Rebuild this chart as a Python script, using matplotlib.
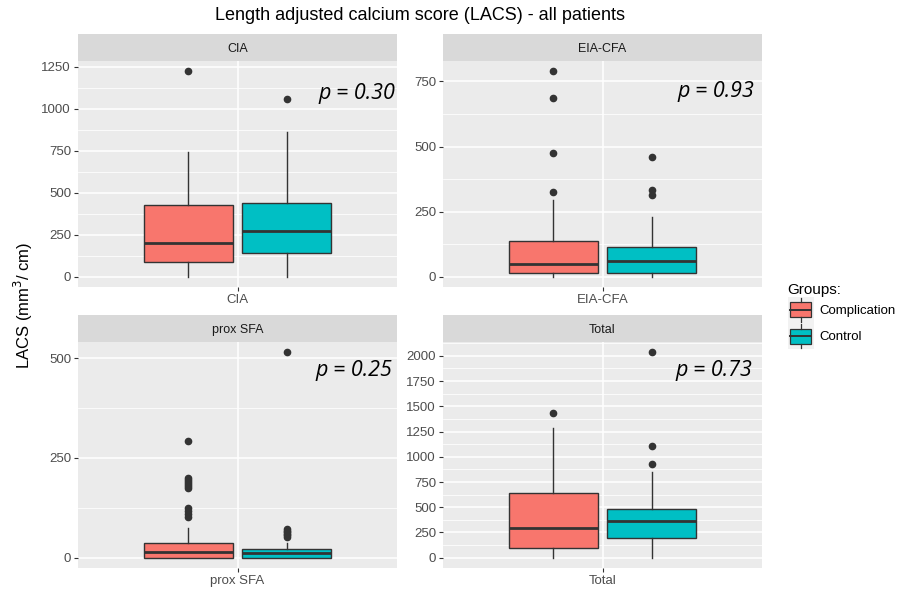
"""Faceted boxplots of length adjusted calcium score (LACS), ggplot look."""
import matplotlib
matplotlib.use("Agg")
import matplotlib.pyplot as plt
from matplotlib.legend_handler import HandlerBase
from matplotlib.lines import Line2D
from matplotlib.patches import Patch, Rectangle

plt.rcParams['font.family'] = ['Liberation Sans', 'DejaVu Sans']

# ---- data ------------------------------------------------------------------
segments = ['CIA', 'EIA-CFA', 'prox SFA', 'Total']
groups = ['Complication', 'Control']
colors = ['#F8766D', '#00BFC4']
p_labels = ['p = 0.30', 'p = 0.93', 'p = 0.25', 'p = 0.73']

# per segment: [complication, control]
whisk_lo = [[0, 0], [0, 0], [0, 0], [0, 0]]
q1 = [[87, 141], [15, 15], [0, 0], [99, 198]]
median = [[199, 270], [49, 59], [15, 11], [294, 363]]
q3 = [[429, 441], [138, 115], [36, 21], [641, 479]]
whisk_hi = [[739, 860], [295, 229], [74, 37], [1283, 853]]
outliers = [
    [[1222], [1055]],
    [[789, 687, 475, 324], [458, 334, 315]],
    [[293, 200, 195, 190, 185, 180, 175, 125, 118, 110, 102],
     [515, 72, 68, 65, 60, 56, 52]],
    [[1431], [2035, 1107, 925]],
]
y_data_max = [1222, 789, 515, 2035]
y_breaks = [
    [0, 250, 500, 750, 1000, 1250],
    [0, 250, 500, 750],
    [0, 250, 500],
    [0, 250, 500, 750, 1000, 1250, 1500, 1750, 2000],
]

# ---- layout (pixels of a 901x593 canvas) -------------------------------------
W, H = 901, 593
panel_px = [(78, 61), (443, 61), (78, 342), (443, 342)]  # left, top
PW, PH, STRIP = 319, 226, 27
p_pos = [(0.994, 0.858), (0.975, 0.864), (0.984, 0.872), (0.969, 0.876)]

BG = '#EBEBEB'
GRID = 'white'
DARK = '#333333'
TICKC = '#4D4D4D'

fig = plt.figure(figsize=(W / 100, H / 100), dpi=100)


def to_fig(x, y, w, h):
    return [x / W, 1 - (y + h) / H, w / W, h / H]


for i, seg in enumerate(segments):
    px, py = panel_px[i]
    ax = fig.add_axes(to_fig(px, py, PW, PH))
    sax = fig.add_axes(to_fig(px, py - STRIP, PW, STRIP))

    # strip
    sax.set_facecolor('#D9D9D9')
    sax.set_xticks([])
    sax.set_yticks([])
    for s in sax.spines.values():
        s.set_visible(False)
    sax.text(0.5, 0.45, seg, ha='center', va='center', fontsize=9,
             color='#1A1A1A', transform=sax.transAxes)

    stats = []
    for g in range(2):
        stats.append(dict(whislo=whisk_lo[i][g], q1=q1[i][g], med=median[i][g],
                          q3=q3[i][g], whishi=whisk_hi[i][g],
                          fliers=outliers[i][g]))
    bp = ax.bxp(stats, positions=[1 - 0.186, 1 + 0.186], widths=0.335,
                patch_artist=True, showfliers=True,
                boxprops=dict(edgecolor=DARK, linewidth=1.0),
                medianprops=dict(color=DARK, linewidth=2.0),
                whiskerprops=dict(color=DARK, linewidth=1.0),
                capprops=dict(linewidth=0),
                flierprops=dict(marker='o', markersize=4.5,
                                markerfacecolor=DARK, markeredgecolor=DARK))
    for patch, c in zip(bp['boxes'], colors):
        patch.set_facecolor(c)
    for cap in bp['caps']:
        cap.set_visible(False)

    ymax = y_data_max[i]
    pad = 0.05 * ymax
    ax.set_ylim(-pad, ymax + pad)
    ax.set_xlim(0.4, 1.6)

    ax.set_facecolor(BG)
    br = y_breaks[i]
    step = br[1] - br[0]
    ax.set_yticks(br)
    ax.set_yticklabels([str(b) for b in br])
    minor = [b + step / 2 for b in br] + [br[0] - step / 2]
    minor = [m for m in minor if -pad < m < ymax + pad]
    ax.set_yticks(minor, minor=True)
    ax.set_xticks([1])
    ax.set_xticklabels([seg])
    ax.grid(True, which='major', color=GRID, linewidth=1.1)
    ax.grid(True, which='minor', axis='y', color=GRID, linewidth=0.55)
    ax.set_axisbelow(True)
    for s in ax.spines.values():
        s.set_visible(False)
    ax.tick_params(axis='both', which='major', colors=DARK, labelcolor=TICKC,
                   labelsize=9.5, length=3, width=0.8, pad=2)
    ax.tick_params(axis='y', which='minor', length=0)

    ax.text(p_pos[i][0], p_pos[i][1], p_labels[i], transform=ax.transAxes,
            ha='right', va='center', fontsize=15.5, style='italic',
            family=['Open Sans', 'DejaVu Sans'], color='black')

fig.text(420 / W, 1 - 16 / H,
         'Length adjusted calcium score (LACS) - all patients',
         ha='center', va='center', fontsize=13, color='black')
fig.text(23 / W, 1 - 305 / H, 'LACS (mm$^{3}$/ cm)', rotation=90,
         ha='center', va='center', fontsize=12, color='black')


class BoxKey(HandlerBase):
    def create_artists(self, legend, orig_handle, xdescent, ydescent,
                       width, height, fontsize, trans):
        x0, y0 = -xdescent, -ydescent
        bg = Rectangle((x0, y0), width, height, facecolor='#F2F2F2',
                       edgecolor='none', transform=trans)
        bx = Rectangle((x0 + 0.1 * width, y0 + 0.22 * height), 0.8 * width,
                       0.56 * height, facecolor=orig_handle.get_facecolor(),
                       edgecolor=DARK, linewidth=0.9, transform=trans)
        xm = x0 + width / 2
        mid = Line2D([x0 + 0.1 * width, x0 + 0.9 * width],
                     [y0 + height / 2] * 2, color=DARK, linewidth=1.4,
                     transform=trans)
        wt = Line2D([xm, xm], [y0 + 0.78 * height, y0 + 0.95 * height],
                    color=DARK, linewidth=0.9, transform=trans)
        wb = Line2D([xm, xm], [y0 + 0.05 * height, y0 + 0.22 * height],
                    color=DARK, linewidth=0.9, transform=trans)
        return [bg, bx, mid, wt, wb]


handles = [Patch(facecolor=c) for c in colors]
leg = fig.legend(handles, groups, title='Groups:', loc='upper left',
                 bbox_to_anchor=(781 / W, 1 - 276 / H), frameon=False,
                 fontsize=9.5, title_fontsize=11, handlelength=2.0,
                 handleheight=2.7, labelspacing=0.0, handletextpad=0.4,
                 borderpad=0, handler_map={Patch: BoxKey()})
leg._legend_box.align = 'left'

fig.savefig('out.png', dpi=100)
